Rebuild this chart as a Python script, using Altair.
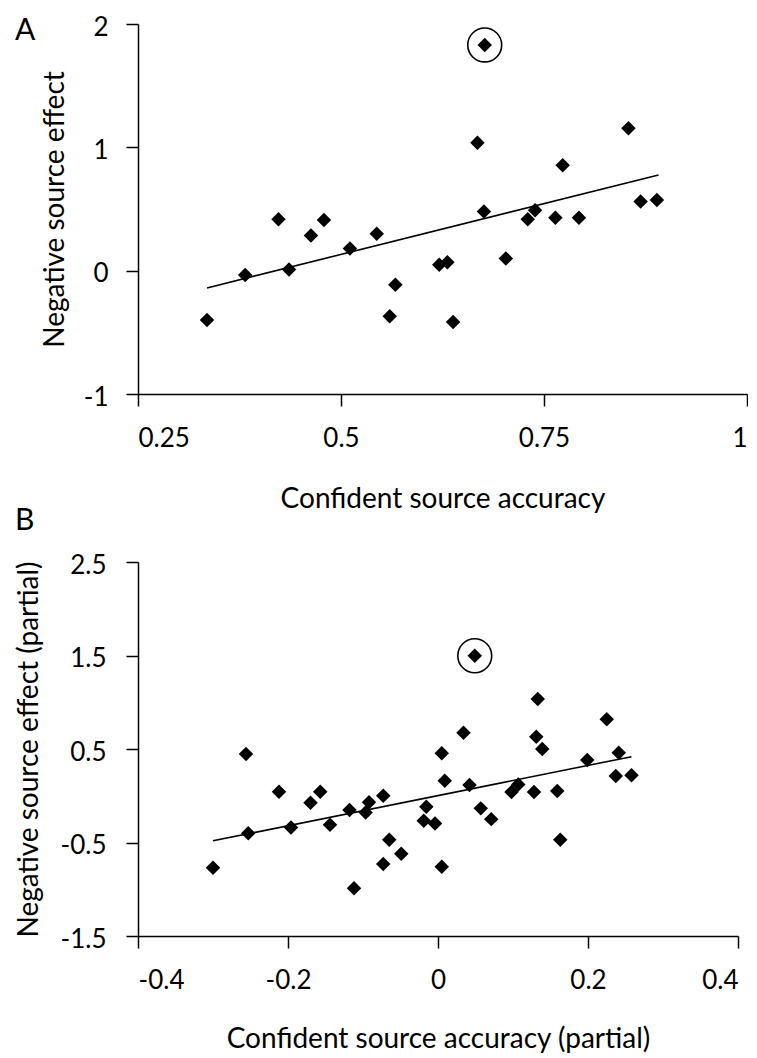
import altair as alt
import pandas as pd

# ---------------- Panel A data ----------------
a_x = [0.335, 0.382, 0.423, 0.436, 0.463, 0.479, 0.511, 0.544, 0.560, 0.567,
       0.621, 0.631, 0.638, 0.668, 0.676, 0.703, 0.730, 0.739, 0.764, 0.793,
       0.773, 0.854, 0.869, 0.889]
a_y = [-0.40, -0.036, 0.417, 0.01, 0.286, 0.41, 0.18, 0.30, -0.37, -0.115,
       0.047, 0.068, -0.416, 1.037, 0.48, 0.099, 0.417, 0.49, 0.43, 0.43,
       0.854, 1.154, 0.56, 0.573]
a_out_x = [0.677]
a_out_y = [1.83]
a_fit_x = [0.335, 0.891]
a_fit_y = [-0.14, 0.776]
a_xticks = [0.25, 0.5, 0.75, 1]
a_yticks = [-1, 0, 1, 2]

# ---------------- Panel B data ----------------
b_x = [0.133, 0.225, 0.034, 0.131, 0.139, 0.241, -0.256, 0.005, -0.212, -0.157,
       -0.170, -0.118, -0.092, -0.0965, -0.073, -0.253, -0.196, -0.144, 0.009, -0.0156,
       -0.019, -0.004, -0.065, -0.049, -0.073, 0.005, -0.300, -0.112, 0.042, 0.057,
       0.071, 0.098, 0.107, 0.128, 0.159, 0.163, 0.199, 0.237, 0.258]
b_y = [1.036, 0.818, 0.675, 0.632, 0.50, 0.46, 0.447, 0.455, 0.043, 0.043,
       -0.075, -0.153, -0.07, -0.18, 0.0, -0.40, -0.34, -0.31, 0.161, -0.118,
       -0.268, -0.296, -0.47, -0.62, -0.73, -0.76, -0.77, -0.99, 0.115, -0.135,
       -0.25, 0.04, 0.12, 0.04, 0.05, -0.47, 0.383, 0.21, 0.22]
b_out_x = [0.049]
b_out_y = [1.497]
b_fit_x = [-0.300, 0.258]
b_fit_y = [-0.482, 0.418]
b_xticks = [-0.4, -0.2, 0, 0.2, 0.4]
b_yticks = [-1.5, -0.5, 0.5, 1.5, 2.5]

letters_a = ["A", "B"]

FONT = "Lato"
LABEL_EXPR = "'' + datum.value"


def panel(px, py, ox, oy, fx, fy, xdom, ydom, xt, yt, xtitle, ytitle,
          w, h, title_x, title_y, ylabpad):
    pts = pd.DataFrame({"x": px, "y": py})
    out = pd.DataFrame({"x": ox, "y": oy})
    fit = pd.DataFrame({"x": fx, "y": fy})
    xenc = alt.X("x:Q",
                 scale=alt.Scale(domain=xdom, nice=False, zero=False),
                 axis=alt.Axis(values=xt, title=xtitle, labelExpr=LABEL_EXPR,
                               labelPadding=19, titleY=title_y,
                               titleBaseline="alphabetic"))
    yenc = alt.Y("y:Q",
                 scale=alt.Scale(domain=ydom, nice=False, zero=False),
                 axis=alt.Axis(values=yt, title=ytitle, labelExpr=LABEL_EXPR,
                               labelPadding=ylabpad, labelOffset=3,
                               titleX=title_x, titleBaseline="alphabetic"))
    pts_layer = alt.Chart(pts).mark_point(shape="diamond", filled=True,
                                          color="black", size=210, opacity=1).encode(x=xenc, y=yenc)
    out_pts = alt.Chart(out).mark_point(shape="diamond", filled=True,
                                        color="black", size=210, opacity=1).encode(x="x:Q", y="y:Q")
    out_ring = alt.Chart(out).mark_point(shape="circle", filled=False,
                                         color="black", size=1150, strokeWidth=1.6,
                                         opacity=1).encode(x="x:Q", y="y:Q")
    fit_line = alt.Chart(fit).mark_line(color="black", strokeWidth=1.6).encode(
        x="x:Q", y="y:Q")
    return alt.layer(fit_line, pts_layer, out_pts, out_ring).properties(width=w, height=h)


chartA = panel(a_x, a_y, a_out_x, a_out_y, a_fit_x, a_fit_y, [0.25, 1], [-1, 2],
               a_xticks, a_yticks, "Confident source accuracy", "Negative source effect",
               609, 370, -75, 113, 18)

letterA = alt.Chart(pd.DataFrame({"t": [letters_a[0]]})).mark_text(
    align="left", baseline="top", fontSize=30, font=FONT, color="black").encode(
    x=alt.value(-123), y=alt.value(-8), text="t:N")
letterB = alt.Chart(pd.DataFrame({"t": [letters_a[1]]})).mark_text(
    align="left", baseline="top", fontSize=30, font=FONT, color="black").encode(
    x=alt.value(-123), y=alt.value(482), text="t:N")

chartA = alt.layer(chartA, letterA, letterB)

chartB = panel(b_x, b_y, b_out_x, b_out_y, b_fit_x, b_fit_y, [-0.4, 0.4], [-1.5, 2.5],
               b_xticks, b_yticks, "Confident source accuracy (partial)",
               "Negative source effect (partial)",
               600, 374, -101, 111, 20)

chart = alt.vconcat(chartA, chartB, spacing=16).properties(
    padding={"left": 6, "top": 6, "right": 0, "bottom": 0}).configure_view(
    stroke=None).configure_axis(
    grid=False, domainColor="black", domainWidth=1.5, tickColor="black",
    tickWidth=1.5, tickSize=12, labelFont=FONT, labelFontSize=26, labelColor="black",
    titleFont=FONT, titleFontSize=28, titleFontWeight="normal", titleColor="black")

chart.save("out.html", embed_options={"renderer": "svg", "actions": False})
